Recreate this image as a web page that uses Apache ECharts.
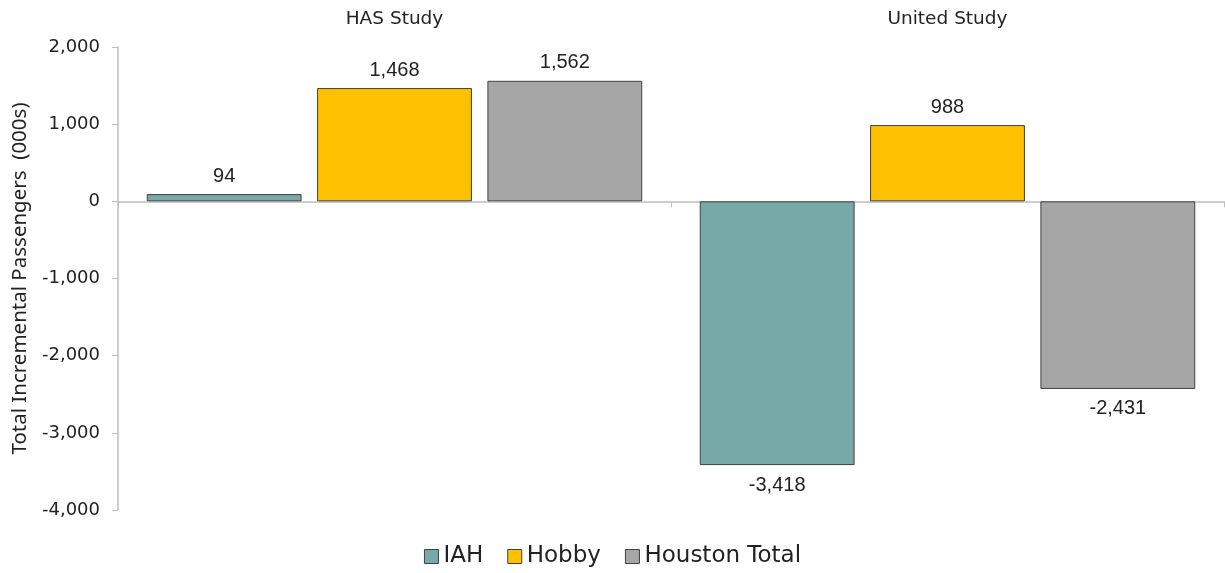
<!DOCTYPE html>
<html>
<head>
<meta charset="utf-8">
<script src="https://cdn.jsdelivr.net/npm/echarts@6/dist/echarts.min.js"></script>
<style>html,body{margin:0;padding:0;background:#fff}#c{width:1225px;height:573px}</style>
</head>
<body>
<div id="c"></div>
<script>
const categories = ['HAS Study', 'United Study'];
const seriesNames = ['IAH', 'Hobby', 'Houston Total'];
const iahValues = [94, -3418];
const hobbyValues = [1468, 988];
const houstonTotalValues = [1562, -2431];
const yTicks = [-4000, -3000, -2000, -1000, 0, 1000, 2000];
const colors = ['#78A9A9', '#FFC000', '#A6A6A6'];

const fmt = v => Number(v).toLocaleString('en-US');
function mkData(arr) {
  return arr.map(v => ({
    value: v,
    label: { position: v < 0 ? 'bottom' : 'top', distance: v < 0 ? 10 : 8 }
  }));
}
const allValues = [iahValues, hobbyValues, houstonTotalValues];

const chart = echarts.init(document.getElementById('c'));
chart.setOption({
  animation: false,
  color: colors,
  grid: { left: 118, right: 1, top: 47, bottom: 63, containLabel: false, outerBoundsMode: 'none' },
  legend: {
    bottom: 0,
    left: 'center',
    itemWidth: 14,
    itemHeight: 14,
    itemGap: 24,
    icon: 'rect',
    textStyle: { fontFamily: 'DejaVu Sans', fontSize: 23, color: '#222' },
    itemStyle: { borderColor: '#404040', borderWidth: 1 },
    data: seriesNames
  },
  xAxis: [
    {
      type: 'category',
      data: categories,
      position: 'bottom',
      axisLine: { onZero: true, lineStyle: { color: '#BFBFBF', width: 1.5 } },
      axisTick: { show: true, length: 6, lineStyle: { color: '#BFBFBF' } },
      axisLabel: { show: false }
    },
    {
      type: 'category',
      data: categories,
      position: 'top',
      axisLine: { show: false },
      axisTick: { show: false },
      axisLabel: { show: true, margin: 18, fontFamily: 'DejaVu Sans', fontSize: 18.5, color: '#222' }
    }
  ],
  yAxis: {
    type: 'value',
    min: yTicks[0],
    max: yTicks[yTicks.length - 1],
    interval: 1000,
    name: 'Total Incremental Passengers  (000s)',
    nameLocation: 'middle',
    nameGap: 86,
    nameRotate: 90,
    nameTextStyle: { fontFamily: 'Noto Sans', fontSize: 20.5, color: '#222' },
    axisLine: { show: true, lineStyle: { color: '#BFBFBF', width: 1.5 } },
    axisTick: { show: true, length: 6, lineStyle: { color: '#BFBFBF' } },
    splitLine: { show: false },
    axisLabel: { formatter: fmt, margin: 18, fontFamily: 'DejaVu Sans', fontSize: 18, color: '#222' }
  },
  series: seriesNames.map((name, i) => ({
    name: name,
    type: 'bar',
    xAxisIndex: 0,
    data: mkData(allValues[i]),
    barWidth: '28%',
    barGap: '10%',
    itemStyle: { color: colors[i], borderColor: '#404040', borderWidth: 1 },
    label: {
      show: true,
      formatter: p => fmt(p.value),
      fontFamily: 'Liberation Sans',
      fontSize: 20,
      color: '#222'
    }
  }))
});
</script>
</body>
</html>
